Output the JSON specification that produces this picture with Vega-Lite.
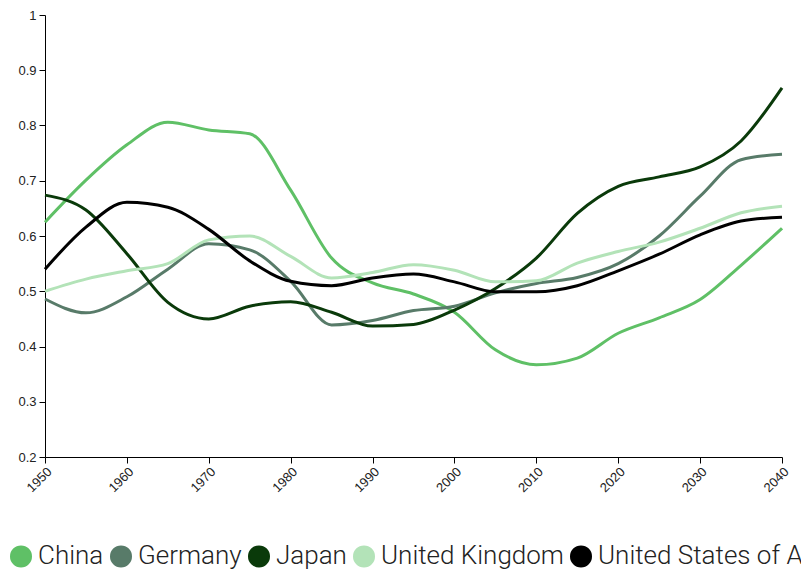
{
  "$schema": "https://vega.github.io/schema/vega-lite/v6.json",
  "width": 737,
  "height": 442,
  "autosize": {"type": "none"},
  "padding": {"left": 45, "top": 15, "right": 19, "bottom": 112},
  "background": "white",
  "config": {"view": {"stroke": null}},
  "data": {
    "values": [
      {"country": "China", "year": 1950, "value": 0.625},
      {"country": "China", "year": 1955, "value": 0.701},
      {"country": "China", "year": 1960, "value": 0.765},
      {"country": "China", "year": 1965, "value": 0.806},
      {"country": "China", "year": 1970, "value": 0.792},
      {"country": "China", "year": 1975, "value": 0.785},
      {"country": "China", "year": 1980, "value": 0.683},
      {"country": "China", "year": 1985, "value": 0.56},
      {"country": "China", "year": 1990, "value": 0.515},
      {"country": "China", "year": 1995, "value": 0.495},
      {"country": "China", "year": 2000, "value": 0.462},
      {"country": "China", "year": 2005, "value": 0.394},
      {"country": "China", "year": 2010, "value": 0.367},
      {"country": "China", "year": 2015, "value": 0.379},
      {"country": "China", "year": 2020, "value": 0.424},
      {"country": "China", "year": 2025, "value": 0.452},
      {"country": "China", "year": 2030, "value": 0.485},
      {"country": "China", "year": 2035, "value": 0.547},
      {"country": "China", "year": 2040, "value": 0.614},
      {"country": "Germany", "year": 1950, "value": 0.486},
      {"country": "Germany", "year": 1955, "value": 0.461},
      {"country": "Germany", "year": 1960, "value": 0.49},
      {"country": "Germany", "year": 1965, "value": 0.54},
      {"country": "Germany", "year": 1970, "value": 0.586},
      {"country": "Germany", "year": 1975, "value": 0.575},
      {"country": "Germany", "year": 1980, "value": 0.518},
      {"country": "Germany", "year": 1985, "value": 0.439},
      {"country": "Germany", "year": 1990, "value": 0.447},
      {"country": "Germany", "year": 1995, "value": 0.465},
      {"country": "Germany", "year": 2000, "value": 0.473},
      {"country": "Germany", "year": 2005, "value": 0.497},
      {"country": "Germany", "year": 2010, "value": 0.514},
      {"country": "Germany", "year": 2015, "value": 0.525},
      {"country": "Germany", "year": 2020, "value": 0.55},
      {"country": "Germany", "year": 2025, "value": 0.6},
      {"country": "Germany", "year": 2030, "value": 0.672},
      {"country": "Germany", "year": 2035, "value": 0.738},
      {"country": "Germany", "year": 2040, "value": 0.748},
      {"country": "Japan", "year": 1950, "value": 0.674},
      {"country": "Japan", "year": 1955, "value": 0.647},
      {"country": "Japan", "year": 1960, "value": 0.568},
      {"country": "Japan", "year": 1965, "value": 0.48},
      {"country": "Japan", "year": 1970, "value": 0.45},
      {"country": "Japan", "year": 1975, "value": 0.473},
      {"country": "Japan", "year": 1980, "value": 0.481},
      {"country": "Japan", "year": 1985, "value": 0.462},
      {"country": "Japan", "year": 1990, "value": 0.437},
      {"country": "Japan", "year": 1995, "value": 0.44},
      {"country": "Japan", "year": 2000, "value": 0.466},
      {"country": "Japan", "year": 2005, "value": 0.505},
      {"country": "Japan", "year": 2010, "value": 0.56},
      {"country": "Japan", "year": 2015, "value": 0.641},
      {"country": "Japan", "year": 2020, "value": 0.69},
      {"country": "Japan", "year": 2025, "value": 0.707},
      {"country": "Japan", "year": 2030, "value": 0.725},
      {"country": "Japan", "year": 2035, "value": 0.772},
      {"country": "Japan", "year": 2040, "value": 0.868},
      {"country": "United Kingdom", "year": 1950, "value": 0.5},
      {"country": "United Kingdom", "year": 1955, "value": 0.522},
      {"country": "United Kingdom", "year": 1960, "value": 0.537},
      {"country": "United Kingdom", "year": 1965, "value": 0.55},
      {"country": "United Kingdom", "year": 1970, "value": 0.593},
      {"country": "United Kingdom", "year": 1975, "value": 0.6},
      {"country": "United Kingdom", "year": 1980, "value": 0.563},
      {"country": "United Kingdom", "year": 1985, "value": 0.524},
      {"country": "United Kingdom", "year": 1990, "value": 0.534},
      {"country": "United Kingdom", "year": 1995, "value": 0.548},
      {"country": "United Kingdom", "year": 2000, "value": 0.538},
      {"country": "United Kingdom", "year": 2005, "value": 0.517},
      {"country": "United Kingdom", "year": 2010, "value": 0.519},
      {"country": "United Kingdom", "year": 2015, "value": 0.551},
      {"country": "United Kingdom", "year": 2020, "value": 0.572},
      {"country": "United Kingdom", "year": 2025, "value": 0.589},
      {"country": "United Kingdom", "year": 2030, "value": 0.614},
      {"country": "United Kingdom", "year": 2035, "value": 0.642},
      {"country": "United Kingdom", "year": 2040, "value": 0.654},
      {"country": "United States of America", "year": 1950, "value": 0.54},
      {"country": "United States of America", "year": 1955, "value": 0.616},
      {"country": "United States of America", "year": 1960, "value": 0.661},
      {"country": "United States of America", "year": 1965, "value": 0.652},
      {"country": "United States of America", "year": 1970, "value": 0.612},
      {"country": "United States of America", "year": 1975, "value": 0.555},
      {"country": "United States of America", "year": 1980, "value": 0.518},
      {"country": "United States of America", "year": 1985, "value": 0.51},
      {"country": "United States of America", "year": 1990, "value": 0.524},
      {"country": "United States of America", "year": 1995, "value": 0.531},
      {"country": "United States of America", "year": 2000, "value": 0.517},
      {"country": "United States of America", "year": 2005, "value": 0.499},
      {"country": "United States of America", "year": 2010, "value": 0.499},
      {"country": "United States of America", "year": 2015, "value": 0.51},
      {"country": "United States of America", "year": 2020, "value": 0.537},
      {"country": "United States of America", "year": 2025, "value": 0.567},
      {"country": "United States of America", "year": 2030, "value": 0.602},
      {"country": "United States of America", "year": 2035, "value": 0.627},
      {"country": "United States of America", "year": 2040, "value": 0.634}
    ]
  },
  "mark": {"type": "line", "interpolate": "monotone", "strokeWidth": 3},
  "encoding": {
    "x": {
      "field": "year",
      "type": "quantitative",
      "scale": {"domain": [1950, 2040], "nice": false, "zero": false},
      "axis": {
        "title": null,
        "grid": false,
        "values": [1950, 1960, 1970, 1980, 1990, 2000, 2010, 2020, 2030, 2040],
        "format": "d",
        "labelAngle": -45,
        "labelAlign": "right",
        "labelBaseline": "top",
        "labelFont": "Liberation Sans",
        "labelFontSize": 13,
        "labelColor": "#222222",
        "domainColor": "#000000",
        "tickColor": "#000000",
        "tickSize": 6,
        "labelPadding": 2,
        "labelOverlap": false,
        "labelFlush": false
      }
    },
    "y": {
      "field": "value",
      "type": "quantitative",
      "scale": {"domain": [0.2, 1], "nice": false, "zero": false},
      "axis": {
        "title": null,
        "grid": false,
        "values": [0.2, 0.3, 0.4, 0.5, 0.6, 0.7, 0.8, 0.9, 1],
        "format": "~f",
        "labelFont": "Liberation Sans",
        "labelFontSize": 13,
        "labelColor": "#222222",
        "domainColor": "#000000",
        "tickColor": "#000000",
        "tickSize": 6,
        "labelPadding": 3
      }
    },
    "color": {
      "field": "country",
      "type": "nominal",
      "scale": {
        "domain": ["China", "Germany", "Japan", "United Kingdom", "United States of America"],
        "range": ["#5fc066", "#587b69", "#0a3a0a", "#b3e3b8", "#000000"]
      },
      "legend": {
        "title": null,
        "orient": "none",
        "direction": "horizontal",
        "legendX": -37,
        "legendY": 528,
        "symbolType": "circle",
        "symbolSize": 420,
        "labelFont": "Roboto",
        "labelFontSize": 26,
        "labelFontWeight": 300,
        "labelColor": "#222222",
        "labelOffset": 4,
        "columnPadding": 3,
        "labelLimit": 0,
        "encode": {
          "symbols": {
            "update": {
              "fill": {"scale": "color", "field": "value"},
              "stroke": {"value": "transparent"},
              "opacity": {"value": 1}
            }
          }
        }
      }
    }
  }
}
